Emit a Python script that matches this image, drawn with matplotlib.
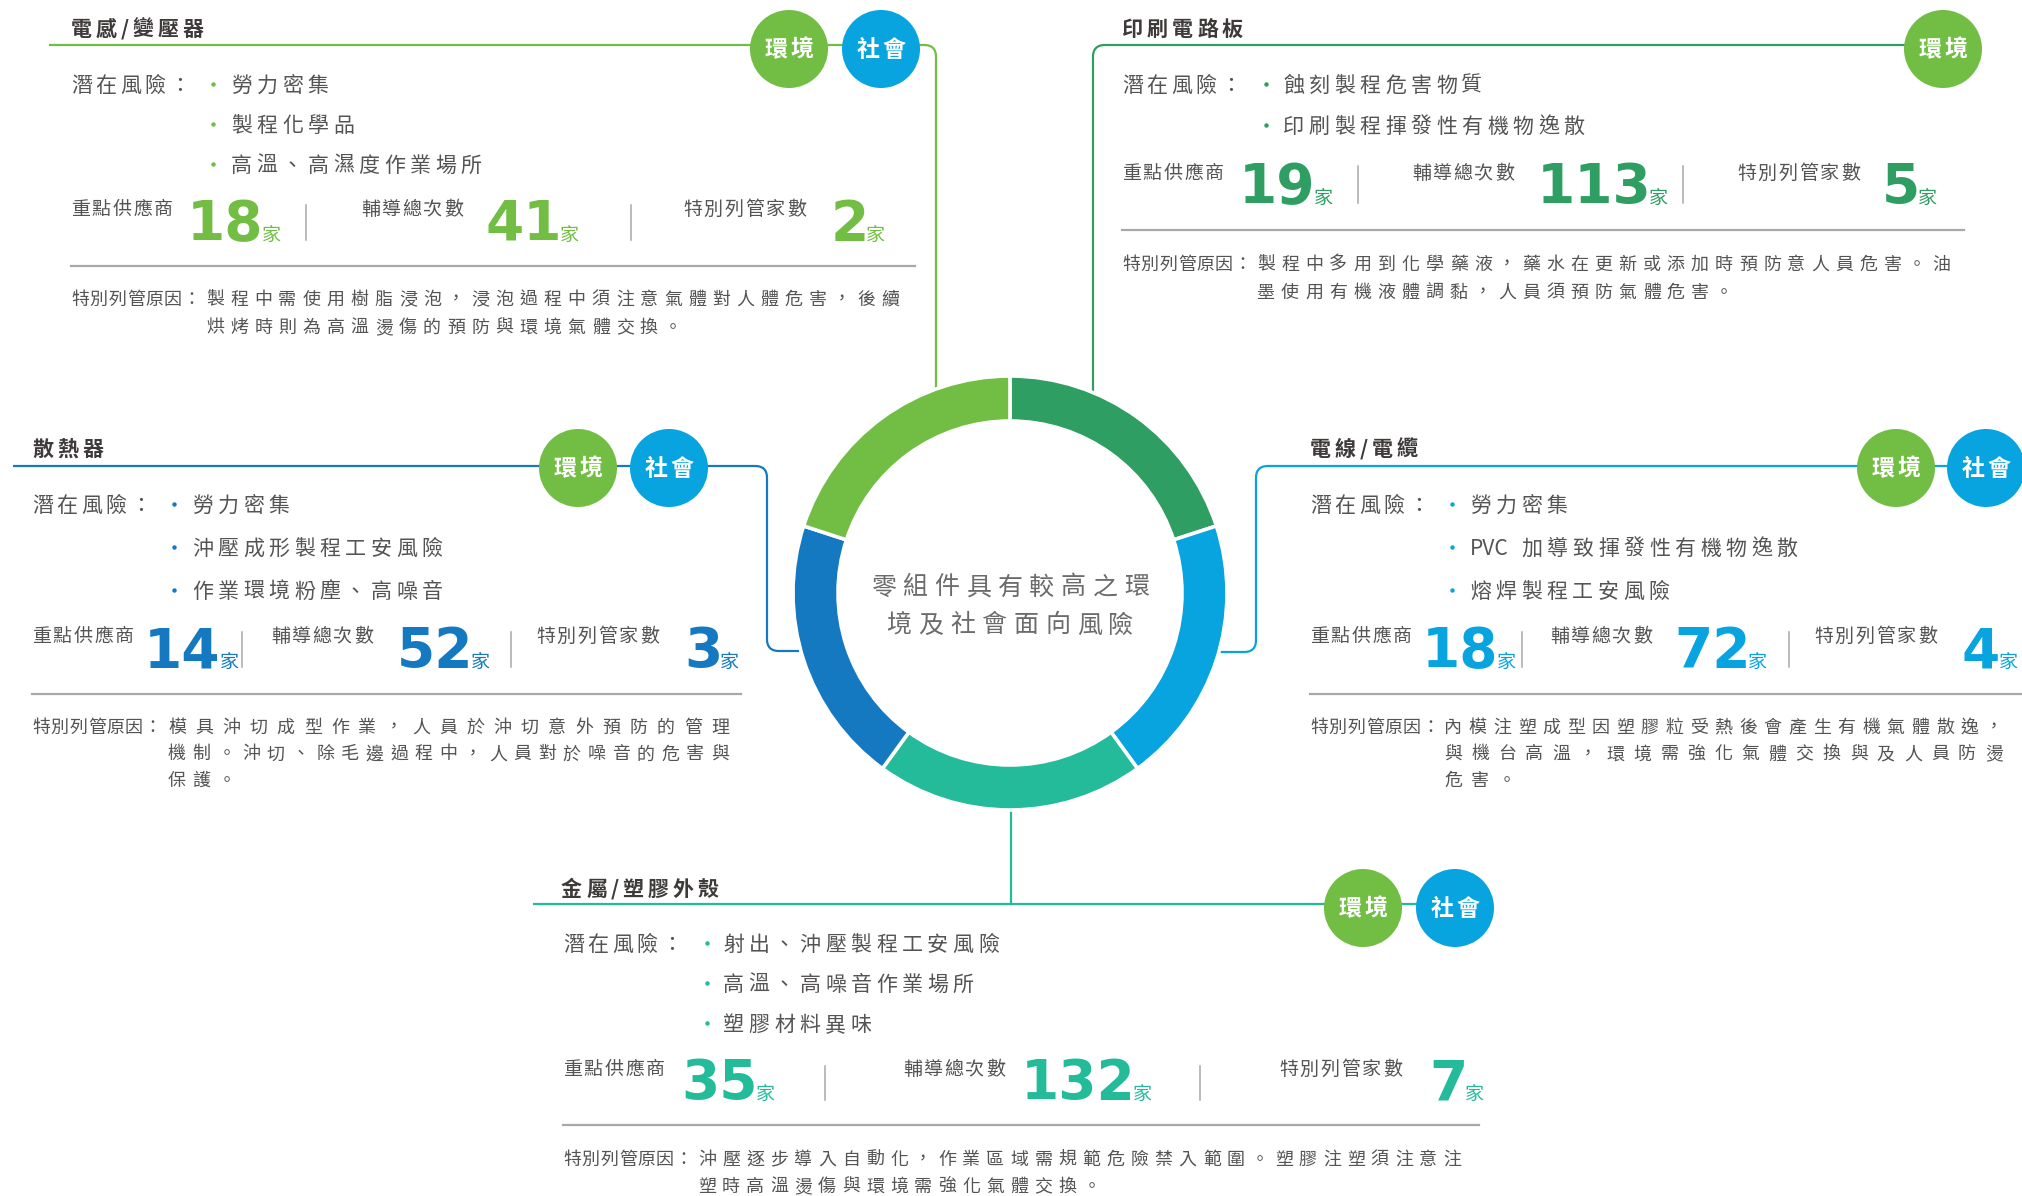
import numpy as np
import matplotlib
matplotlib.use("Agg")
import matplotlib.pyplot as plt
from matplotlib.font_manager import FontProperties
from matplotlib.textpath import TextPath
from matplotlib.patches import Circle

W, H, DPI = 2022, 1196, 100
PT = 72 / DPI
CJK = "Noto Sans CJK TC"
NUMFONT = "DejaVu Sans"

# ---------------- data ----------------
categories = ["印刷電路板", "電線/電纜", "金屬/塑膠外殼", "散熱器", "電感/變壓器"]
segment_share = [1, 1, 1, 1, 1]
key_suppliers = [19, 18, 35, 14, 18]
coaching_total = [113, 72, 132, 52, 41]
special_listed = [5, 4, 7, 3, 2]
aspects = [["環境"], ["環境", "社會"], ["環境", "社會"], ["環境", "社會"], ["環境", "社會"]]
risks = [
    ["蝕刻製程危害物質", "印刷製程揮發性有機物逸散"],
    ["勞力密集", "PVC 加導致揮發性有機物逸散", "熔焊製程工安風險"],
    ["射出、沖壓製程工安風險", "高溫、高噪音作業場所", "塑膠材料異味"],
    ["勞力密集", "沖壓成形製程工安風險", "作業環境粉塵、高噪音"],
    ["勞力密集", "製程化學品", "高溫、高濕度作業場所"],
]
reasons = [
    ["製程中多用到化學藥液，藥水在更新或添加時預防意人員危害。油", "墨使用有機液體調黏，人員須預防氣體危害。"],
    ["內模注塑成型因塑膠粒受熱後會產生有機氣體散逸，", "與機台高溫，環境需強化氣體交換與及人員防燙", "危害。"],
    ["沖壓逐步導入自動化，作業區域需規範危險禁入範圍。塑膠注塑須注意注", "塑時高溫燙傷與環境需強化氣體交換。"],
    ["模具沖切成型作業，人員於沖切意外預防的管理", "機制。沖切、除毛邊過程中，人員對於噪音的危害與", "保護。"],
    ["製程中需使用樹脂浸泡，浸泡過程中須注意氣體對人體危害，後續", "烘烤時則為高溫燙傷的預防與環境氣體交換。"],
]
stat_labels = ["重點供應商", "輔導總次數", "特別列管家數"]
unit_label = "家"
risk_label = "潛在風險："
reason_label = "特別列管原因："
center_title = ["零組件具有較高之環", "境及社會面向風險"]

# ---------------- style ----------------
seg_colors = ["#2E9E62", "#08A4DF", "#24BB9B", "#1479C0", "#72BE44"]
aspect_colors = {"環境": "#72BE44", "社會": "#08A4DF"}
TXT = "#555353"
TITLE = "#3E3A39"
RULE = "#A7A8A8"

layout = {
    0: dict(title=(1122, 28), line=[(1093, 395), (1093, 45), (1915, 45)], circles=[(1943, 49)],
            risk=(1122, 84), bullet=1266, item=1283, risk_dy=41,
            stat_y=172, base=203, lab_x=[1122, 1412, 1737], num_x=[1245, 1543, 1886],
            div_x=[1358, 1683], div_y=(166, 203),
            rule=(1122, 1964, 230), reason=(1122, 263), body=(1257, 1950), reason_dy=28),
    1: dict(title=(1310, 448), line=[(2022, 466), (1256, 466), (1256, 652), (1219, 652)],
            circles=[(1896, 468), (1986, 468)],
            risk=(1310, 504), bullet=1452, item=1470, risk_dy=43,
            stat_y=635, base=667, lab_x=[1310, 1550, 1814], num_x=[1428, 1678, 1964],
            div_x=[1522, 1789], div_y=(632, 667),
            rule=(1310, 2022, 694), reason=(1310, 726), body=(1444, 2003), reason_dy=26.5),
    2: dict(title=(561, 888), line=[(533, 904), (1440, 904)], stem=[(1011, 809), (1011, 904)],
            circles=[(1363, 908), (1455, 908)],
            risk=(563, 943), bullet=707, item=723, risk_dy=40,
            stat_y=1068, base=1099, lab_x=[563, 903, 1279], num_x=[685, 1027, 1433],
            div_x=[825, 1200], div_y=(1066, 1100),
            rule=(563, 1479, 1125), reason=(563, 1158), body=(698, 1461), reason_dy=27),
    3: dict(title=(32, 448), line=[(13, 466), (767, 466), (767, 651), (801, 651)],
            circles=[(578, 468), (669, 468)],
            risk=(32, 504), bullet=174, item=192, risk_dy=43,
            stat_y=635, base=667, lab_x=[32, 271, 536], num_x=[150, 401, 688],
            div_x=[242, 511], div_y=(632, 667),
            rule=(32, 741, 694), reason=(32, 726), body=(168, 729), reason_dy=26.5),
    4: dict(title=(71, 28), line=[(49, 45), (936, 45), (936, 390)], circles=[(789, 49), (881, 49)],
            risk=(71, 84), bullet=213, item=231, risk_dy=40,
            stat_y=208, base=240, lab_x=[71, 361, 683], num_x=[193, 488, 835],
            div_x=[306, 631], div_y=(205, 240),
            rule=(71, 915, 266), reason=(71, 298), body=(206, 899), reason_dy=28),
}

fig = plt.figure(figsize=(W / DPI, H / DPI), dpi=DPI)
ax = fig.add_axes([0, 0, 1, 1])
ax.set_xlim(0, W)
ax.set_ylim(H, 0)
ax.axis("off")


def fprop(size_px, weight="normal", family=CJK):
    return FontProperties(family=family, weight=weight, size=size_px * PT)


def spaced(x, yc, s, size_px, pitch, color, weight="normal", ha="left", z=5):
    """Draw text char by char with a fixed pitch; yc is the visual centre of CJK glyphs."""
    fp = fprop(size_px, weight)
    items = []
    i = 0
    while i < len(s):
        ch = s[i]
        if ch == " ":
            items.append((None, 0.32 * size_px))
            i += 1
        elif ord(ch) < 128:
            j = i
            while j < len(s) and ord(s[j]) < 128 and s[j] != " ":
                j += 1
            run = s[i:j]
            w = TextPath((0, 0), run, size=size_px, prop=fp).get_extents().width
            items.append((run, w + 0.1 * size_px + (pitch - size_px) * len(run) * 0.5))
            i = j
        else:
            items.append((ch, pitch))
            i += 1
    total = sum(w for _, w in items) - (pitch - size_px)
    if ha == "center":
        x = x - total / 2
    base = yc + 0.38 * size_px
    cx = x
    for t, w in items:
        if t:
            ax.text(cx, base, t, fontproperties=fp, color=color, va="baseline", ha="left", zorder=z)
        cx += w


def rounded(points, r=12):
    pts = [np.array(p, float) for p in points]
    out = [pts[0]]
    for i in range(1, len(pts) - 1):
        a, p, b = pts[i - 1], pts[i], pts[i + 1]
        u1 = (p - a) / np.linalg.norm(p - a)
        u2 = (b - p) / np.linalg.norm(b - p)
        p1, p2 = p - u1 * r, p + u2 * r
        t = np.linspace(0, 1, 14)[:, None]
        out.extend((1 - t) ** 2 * p1 + 2 * (1 - t) * t * p + t ** 2 * p2)
    out.append(pts[-1])
    arr = np.array(out)
    return arr[:, 0], arr[:, 1]


# ---------------- donut ----------------
CX, CY, R_OUT, R_IN = 1010, 593, 217, 172
pax = fig.add_axes([(CX - R_OUT) / W, (H - CY - R_OUT) / H, 2 * R_OUT / W, 2 * R_OUT / H])
pax.pie(segment_share, colors=seg_colors, startangle=90, counterclock=False, radius=1,
        wedgeprops=dict(width=(R_OUT - R_IN) / R_OUT, edgecolor="white", linewidth=2.6))
pax.set_xlim(-1, 1)
pax.set_ylim(-1, 1)
pax.set_aspect("equal")
pax.axis("off")

spaced(CX, 585, center_title[0], 25, 31.7, "#6B6B6B", ha="center")
spaced(CX, 623, center_title[1], 25, 31.7, "#6B6B6B", ha="center")

NUM_PX = 55
num_fp = fprop(NUM_PX, "bold", NUMFONT)
unit_fp = fprop(19)

# ---------------- panels ----------------
for k, name in enumerate(categories):
    L = layout[k]
    col = seg_colors[k]
    # connector
    xs, ys = rounded(L["line"])
    ax.plot(xs, ys, color=col, lw=1.6, solid_capstyle="butt", zorder=2)
    if "stem" in L:
        sx, sy = zip(*L["stem"])
        ax.plot(sx, sy, color=col, lw=1.6, zorder=2)
    # aspect circles
    for (cx, cy), asp in zip(L["circles"], aspects[k]):
        ax.add_patch(Circle((cx, cy), 39, facecolor=aspect_colors[asp], edgecolor="none", zorder=3))
        spaced(cx, cy - 1, asp, 23, 25.5, "white", weight="bold", ha="center", z=6)
    # title
    tx, ty = L["title"]
    spaced(tx, ty, name, 21, 25, TITLE, weight="bold")
    # risks
    rx, ry = L["risk"]
    spaced(rx, ry, risk_label, 21, 24.6, TXT)
    for j, item in enumerate(risks[k]):
        yy = ry + j * L["risk_dy"]
        ax.plot([L["bullet"]], [yy], "o", ms=3.2, color=col, mec="none", zorder=5)
        spaced(L["item"], yy, item, 21, 25.5, TXT)
    # stats
    vals = [key_suppliers[k], coaching_total[k], special_listed[k]]
    for j in range(3):
        spaced(L["lab_x"][j], L["stat_y"], stat_labels[j], 19, 20.8, TXT)
        s = str(vals[j])
        ext = TextPath((0, 0), s, size=NUM_PX, prop=num_fp).get_extents()
        x_txt = L["num_x"][j] - ext.x0
        ax.text(x_txt, L["base"], s, fontproperties=num_fp,
                color=col, va="baseline", ha="left", zorder=5)
        ax.text(x_txt + ext.x1 + 2, L["base"] + 1, unit_label, fontproperties=unit_fp,
                color=col, va="baseline", ha="left", zorder=5)
    for dx in L["div_x"]:
        ax.plot([dx, dx], L["div_y"], color=RULE, lw=1.1, zorder=2)
    x0, x1, yr = L["rule"]
    ax.plot([x0, x1], [yr, yr], color=RULE, lw=1.6, zorder=2)
    # reasons
    lx, ly = L["reason"]
    spaced(lx, ly, reason_label, 18, 18.6, TXT)
    b0, b1 = L["body"]
    lines = reasons[k]
    pitch = None
    for j, line in enumerate(lines):
        if j < len(lines) - 1 or len(lines) == 1:
            pitch = (b1 - b0 - 18) / (len(line) - 1)
        spaced(b0, ly + j * L["reason_dy"], line, 18, pitch, TXT)

fig.savefig("out.png", dpi=DPI)
